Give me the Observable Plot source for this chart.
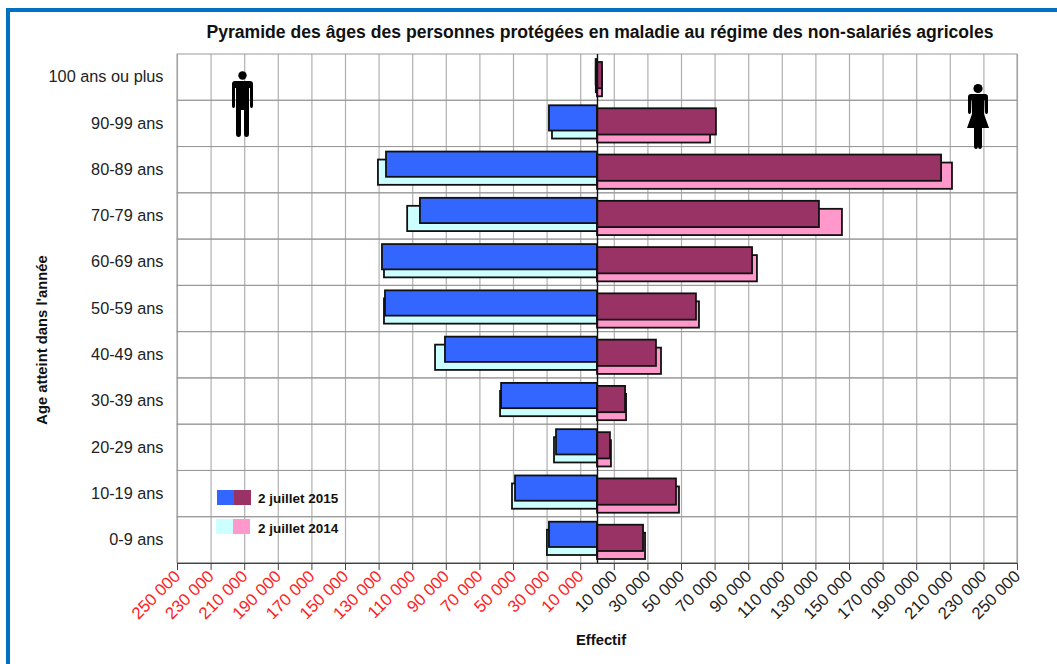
<!DOCTYPE html>
<html><head><meta charset="utf-8">
<script src="https://cdn.jsdelivr.net/npm/d3@7"></script>
<script src="https://cdn.jsdelivr.net/npm/@observablehq/plot@0.6"></script>
<style>
html,body{margin:0;padding:0;background:#fff}
#page{position:relative;width:1057px;height:664px;overflow:hidden;font-family:"Liberation Sans",Arial,sans-serif}
#page svg.chart{position:absolute;left:0;top:0}
.frameT{position:absolute;left:6px;top:8px;right:0;height:4px;background:#0070C0}
.frameL{position:absolute;left:6px;top:8px;bottom:0;width:4px;background:#0070C0}
.title{position:absolute;left:100px;width:1000px;top:22px;text-align:center;font-weight:bold;font-size:17.6px;color:#111;white-space:nowrap}
.ylab{position:absolute;left:42px;top:340px;transform:translate(-50%,-50%) rotate(-90deg);font-weight:bold;font-size:14.8px;color:#111;white-space:nowrap}
.xlab{position:absolute;left:601px;top:640px;transform:translate(-50%,-50%);font-weight:bold;font-size:14.8px;color:#111}
.lg{position:absolute;font-weight:bold;font-size:13.5px;color:#111;left:258px;white-space:nowrap}
.sw{position:absolute;width:17px;height:15px}
.icon{position:absolute}
</style></head><body>
<div id="page">
<div class="frameT"></div><div class="frameL"></div>
<div class="title">Pyramide des âges des personnes protégées en maladie au régime des non-salariés agricoles</div>
<div class="ylab">Age atteint dans l'année</div>
<div class="xlab">Effectif</div>
<div id="chart"></div>
<div class="sw" style="left:217px;top:490px;background:#3366FF"></div>
<div class="sw" style="left:234px;top:490px;background:#993366"></div>
<div class="lg" style="top:491px">2 juillet 2015</div>
<div class="sw" style="left:216px;top:519px;background:#CCFFFF"></div>
<div class="sw" style="left:233px;top:519px;background:#FF99CC"></div>
<div class="lg" style="top:521px">2 juillet 2014</div>
<svg class="icon" style="left:231px;top:70px" width="23" height="68" viewBox="0 0 23 68">
<circle cx="11.5" cy="5.5" r="4.2"/>
<path d="M4 11h15q3 0 3 3v22q0 2-1.5 2t-1.5-2V18h-1v46q0 3-2.5 3T13 64V40h-3v24q0 3-2.5 3T5 64V18H4v18q0 2-1.5 2T1 36V14q0-3 3-3z"/>
</svg>
<svg class="icon" style="left:966px;top:83px" width="24" height="67" viewBox="0 0 24 67">
<circle cx="12" cy="5.5" r="4.6"/>
<path d="M5 11h14q3 0 3 3v15q0 2-1.5 2T19 29V17h-.5l-.5 14 5 14H16v18q0 3-2 3t-2-3V45h0v18q0 3-2 3t-2-3V45H1l5-14-.5-14H5v12q0 2-1.5 2T2 29V14q0-3 3-3z"/>
</svg>
</div>
<script>
const ages = ["100 ans ou plus","90-99 ans","80-89 ans","70-79 ans","60-69 ans","50-59 ans","40-49 ans","30-39 ans","20-29 ans","10-19 ans","0-9 ans"];
const hommes2015 = [800,28600,125600,105400,128000,126200,90500,57100,24400,48800,28600];
const hommes2014 = [700,26800,130400,113000,126800,126800,96400,57700,25600,50600,29800];
const femmes2015 = [3000,70800,204800,132100,92300,58900,35100,16700,7700,47000,27400];
const femmes2014 = [3000,67300,211300,145800,95200,60700,38100,17300,8300,48800,28600];
const negTicks = [-250000,-230000,-210000,-190000,-170000,-150000,-130000,-110000,-90000,-70000,-50000,-30000,-10000];
const posTicks = [10000,30000,50000,70000,90000,110000,130000,150000,170000,190000,210000,230000,250000];

const fmt = d => d3.format(",")(Math.abs(d)).replace(/,/g," ");
const rows = (vals, sign) => ages.map((a,i) => ({age:a, v:sign*vals[i]}));
const bars = (vals, sign, fill, top, bottom) => Plot.barX(rows(vals,sign), {
  x:"v", y:"age", fill, stroke:"#111", strokeWidth:1.8, insetTop:top, insetBottom:bottom
});

const chart = Plot.plot({
  width:1057, height:664,
  marginLeft:177, marginRight:40, marginTop:54, marginBottom:101,
  style:{fontFamily:'"Liberation Sans",Arial,sans-serif', background:"transparent"},
  x:{domain:[-250000,250000]},
  y:{domain:ages, padding:0, round:false, label:null},
  marks:[
    Plot.ruleX([...negTicks,...posTicks], {stroke:"#b0b0b0", strokeWidth:1.2}),
    Plot.barX(ages, {x1:-250000, x2:250000, y:d=>d, fill:"none", stroke:"#999", strokeWidth:1}),
    Plot.ruleY(ages.slice(-1), {x1:-250000, x2:250000, y:d=>d, dy:23.1, stroke:"#444", strokeWidth:1.2}),
    bars(hommes2014,-1,"#CCFFFF",13,8),
    bars(femmes2014, 1,"#FF99CC",16,4),
    bars(hommes2015,-1,"#3366FF",5,16),
    bars(femmes2015, 1,"#993366",8,12),
    Plot.ruleX([0], {stroke:"#111", strokeWidth:1.4}),
    Plot.axisX(negTicks, {tickFormat:fmt, tickRotate:-45, fill:"#FF2020", stroke:"#444", fontSize:16.8, tickSize:7, tickPadding:3, textAnchor:"end", label:null}),
    Plot.axisX(posTicks, {tickFormat:fmt, tickRotate:-45, fill:"#222", stroke:"#444", fontSize:16.8, tickSize:7, tickPadding:3, textAnchor:"end", label:null}),
    Plot.axisY(ages, {tickSize:0, tickPadding:14, fontSize:16.3, dy:-0.5, fill:"#222", label:null})
  ]
});
chart.classList.add("chart");
document.getElementById("chart").append(chart);
</script>
</body></html>
